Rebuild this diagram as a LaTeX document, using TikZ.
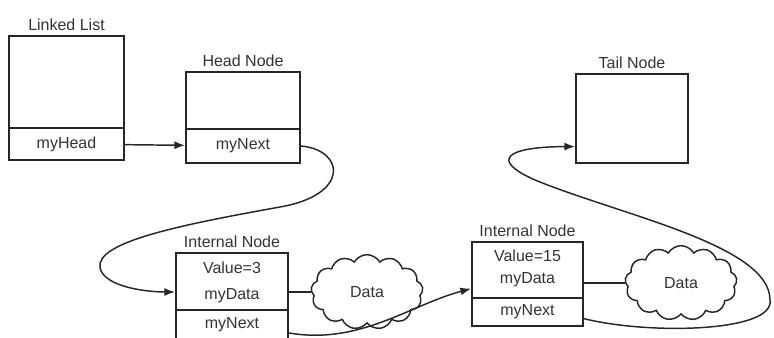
\documentclass[tikz,border=0pt]{standalone}
\usepackage{fontspec}
\setmainfont{Liberation Sans}
\usepackage{tikz}
\usetikzlibrary{positioning, arrows.meta, shapes.symbols}

\begin{document}
\begin{tikzpicture}[x=0.75pt,y=0.75pt,yscale=-1,xscale=1,
                    every node/.style={font=\fontsize{12}{14}\selectfont, text=black!80}]
\useasboundingbox (0,0) rectangle (774,338);
\tikzset{
  cell/.style={draw=black!85, line width=1.5pt, inner sep=0pt, fill=white},
  caption/.style={inner sep=0.75pt},
  link/.style={draw=black!85, line width=1.1pt, -{Latex[length=8pt,width=6pt]}},
  datacloud/.style={cloud, cloud puffs=13, cloud puff arc=120, aspect=1.6, draw=black!85,
                    line width=1.1pt, inner sep=0pt, minimum width=84pt, minimum height=56pt}
}

%Linked List
\node [cell, minimum width=86.25pt, minimum height=69pt] (lltop) at (66.5,82) {};
\node [cell, minimum width=86.25pt, minimum height=24pt] (llhead) at (66.5,144) {myHead};
\node [caption, above=2pt of lltop] (lllabel) {Linked List};

%Head Node
\node [cell, minimum width=85.5pt, minimum height=42.75pt] (headtop) at (243,100.5) {};
\node [cell, minimum width=85.5pt, minimum height=25.5pt] (headnext) at (243,146) {myNext};
\node [caption, above=2pt of headtop] (headlabel) {Head Node};

%Tail Node
\node [cell, minimum width=84pt, minimum height=66.75pt] (tail) at (632,118.5) {};
\node [caption, above=2pt of tail] (taillabel) {Tail Node};

%Internal Node, Value=3
\node [cell, minimum width=84pt, minimum height=42.75pt] (int1top) at (232,281.5) {};
\node [cell, minimum width=84pt, minimum height=22.5pt] (int1next) at (232,325) {myNext};
\node [caption] (int1val) at (232,268) {Value=3};
\node [caption] (int1data) at (232,296) {myData};
\node [caption, above=2pt of int1top] (int1label) {Internal Node};

%Internal Node, Value=15
\node [cell, minimum width=83.25pt, minimum height=42pt] (int2top) at (527.5,270) {};
\node [cell, minimum width=83.25pt, minimum height=21pt] (int2next) at (527.5,312) {myNext};
\node [caption] (int2val) at (527.5,256) {Value=15};
\node [caption] (int2data) at (527.5,280) {myData};
\node [caption, above=2pt of int2top] (int2label) {Internal Node};

%Data clouds
\node [datacloud] (cloud1) at (367,292) {Data};
\node [datacloud] (cloud2) at (681,283) {Data};
\draw [line width=1.1pt, draw=black!85] (cloud1.west -| int1top.east) -- (cloud1.west);
\draw [line width=1.1pt, draw=black!85] (cloud2.west -| int2top.east) -- (cloud2.west);

%Links
\draw [link] (llhead) -- (headnext);
\draw [link] (headnext.east) .. controls (345,150) and (350,195) .. (280,207)
  .. controls (180,225) and (95,242) .. (100,268)
  .. controls (105,288) and (150,292) .. (int1top.west |- cloud1.west);
\draw [link] ([yshift=6pt]int1next.east) .. controls (360,345) and (410,305) .. ([yshift=14pt]int2top.west);
\draw [link] ([yshift=5pt]int2next.east) .. controls (650,335) and (775,332) .. (770,300)
  .. controls (770,245) and (620,215) .. (535,180)
  .. controls (490,160) and (505,147) .. ([yshift=21pt]tail.west);

\end{tikzpicture}
\end{document}
